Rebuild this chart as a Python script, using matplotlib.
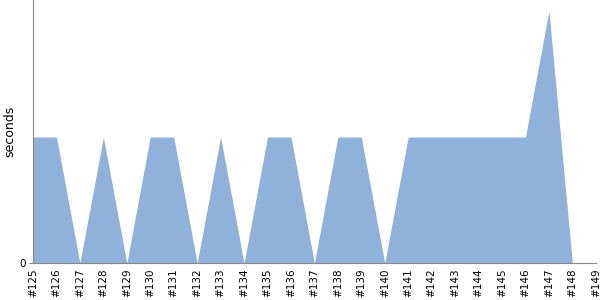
import numpy as np
import matplotlib
matplotlib.use("Agg")
import matplotlib.pyplot as plt

builds = ["#%d" % n for n in range(125, 150)]
# czas trwania (sekundy), #149 bez danych
seconds = [1, 1, 0, 1, 0, 1, 1, 0, 1, 0, 1, 1, 0, 1, 1, 0,
           1, 1, 1, 1, 1, 1, 2, 0, np.nan]

x = np.arange(len(builds))
y = np.array(seconds, dtype=float)

fig = plt.figure(figsize=(6, 3), dpi=100)
ax = fig.add_axes([0.055, 0.123, 0.938, 0.877])

ax.fill_between(x, 0, y, color="#8fb1da", linewidth=0)

ax.set_xlim(0, len(builds) - 1)
ax.set_ylim(0, 2.087)
ax.set_xticks(x)
ax.set_xticklabels(builds, rotation=90, fontsize=7.5)
ax.set_yticks([0])
ax.set_yticklabels(["0"], fontsize=7.5)
ax.set_ylabel("seconds", fontsize=9)
ax.yaxis.set_label_coords(-0.029, 0.5)

for s in ["top", "right"]:
    ax.spines[s].set_visible(False)
for s in ["left", "bottom"]:
    ax.spines[s].set_color("#888888")
ax.tick_params(axis="y", length=3, color="#888888", pad=2)
ax.tick_params(axis="x", length=0, pad=4)

fig.savefig("out.png")
